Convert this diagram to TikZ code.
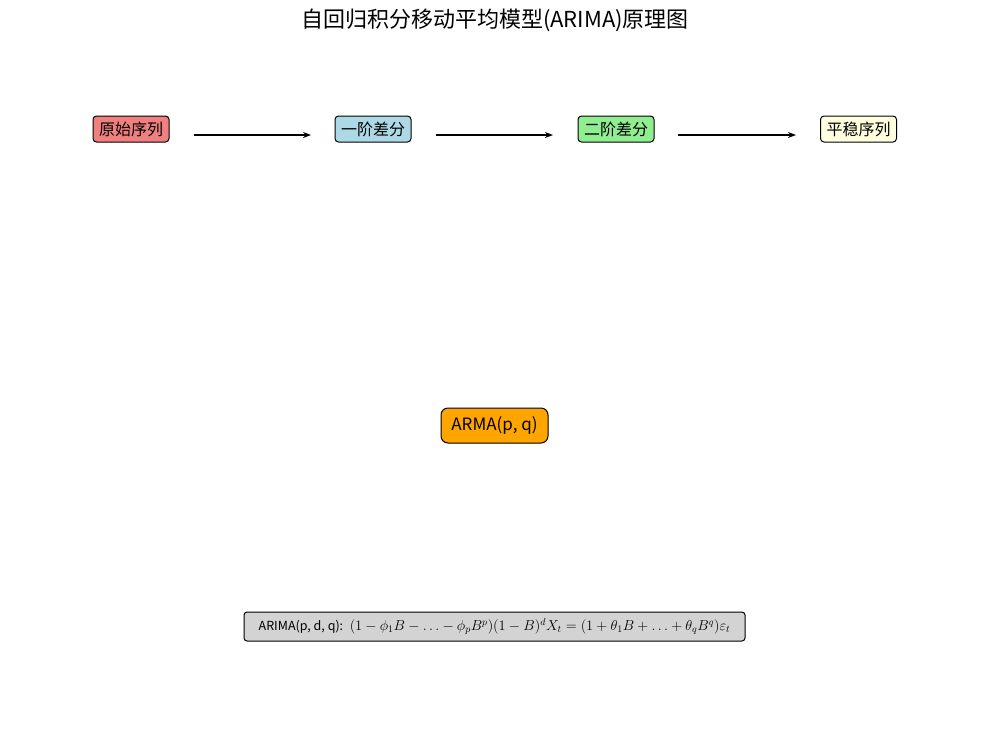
\documentclass[tikz,border=0pt]{standalone}
\usepackage{fontspec}
\setmainfont{Noto Sans CJK SC}
\setsansfont{DejaVu Sans}
\usetikzlibrary{arrows.meta}
\definecolor{lcoral}{HTML}{F08080}
\definecolor{lblue}{HTML}{ADD8E6}
\definecolor{lgreen}{HTML}{90EE90}
\definecolor{lyellow}{HTML}{FFFFE0}
\definecolor{orng}{HTML}{FFA500}
\definecolor{lgray}{HTML}{D3D3D3}
\begin{document}
\begin{tikzpicture}[x=1pt,y=-1pt,
  stepbox/.style={draw=black,line width=1pt,rounded corners=3.5pt,minimum width=76pt,minimum height=26pt,inner sep=2pt,font=\fontsize{16}{16}\selectfont},
  flowarrow/.style={-{Stealth[length=8pt,width=6pt]},line width=1.8pt}]
\useasboundingbox (0,0) rectangle (989,740);
\node (title) at (495,20) {\fontsize{22}{22}\selectfont 自回归积分移动平均模型(ARIMA)原理图};
\node[stepbox,fill=lcoral] (s1) at (131,129) {原始序列};
\node[stepbox,fill=lblue] (s2) at (373,129) {一阶差分};
\node[stepbox,fill=lgreen] (s3) at (616,129) {二阶差分};
\node[stepbox,fill=lyellow] (s4) at (858.5,129) {平稳序列};
\coordinate (a1s) at (194,135); \coordinate (a1e) at (311,135);
\coordinate (a2s) at (436,135); \coordinate (a2e) at (553,135);
\coordinate (a3s) at (678,135); \coordinate (a3e) at (796,135);
\draw[flowarrow] (a1s) -- (a1e);
\draw[flowarrow] (a2s) -- (a2e);
\draw[flowarrow] (a3s) -- (a3e);
\node[draw=black,line width=1pt,rounded corners=7pt,fill=orng,minimum width=107pt,minimum height=35pt,font=\fontsize{17}{17}\selectfont] (arma) at (494.5,425.5) {ARMA(p, q)};
\node[draw=black,line width=1pt,rounded corners=3pt,fill=lgray,minimum width=501pt,minimum height=29pt,inner sep=1pt] (formula) at (494.5,626.5) {\fontsize{12.5}{12.5}\selectfont ARIMA(p, d, q): \ \fontsize{14.5}{14.5}\selectfont $(1-\phi_1B-\ldots-\phi_pB^p)(1-B)^dX_t=(1+\theta_1B+\ldots+\theta_qB^q)\varepsilon_t$};
\end{tikzpicture}
\end{document}
